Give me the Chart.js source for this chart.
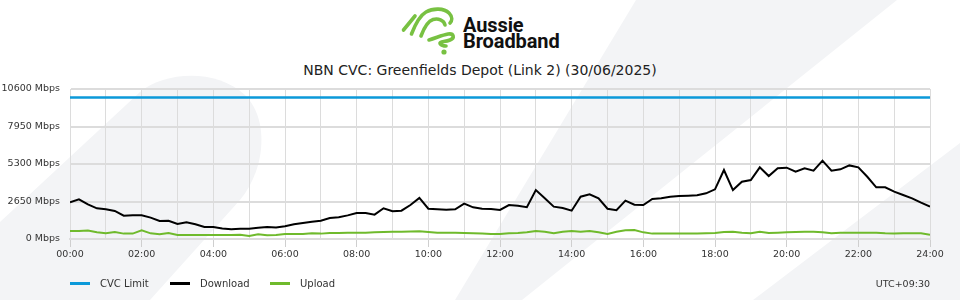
<!DOCTYPE html>
<html>
<head>
<meta charset="utf-8">
<script src="https://cdn.jsdelivr.net/npm/chart.js@4.4.1/dist/chart.umd.min.js"></script>
<style>
  body { margin: 0; background: #fff; font-family: "DejaVu Sans", sans-serif; }
  #page { position: relative; width: 960px; height: 300px; overflow: hidden; }
  #bg { position: absolute; left: 0; top: 0; }
  #chart { position: absolute; left: 0; top: 0; }
  #logo { position: absolute; left: 400px; top: 1px; width: 62px; height: 56px; }
  #brand { position: absolute; left: 463px; top: 17px; font-family: Roboto, sans-serif; font-weight: 700;
           font-size: 20px; line-height: 16px; color: #111; letter-spacing: -0.1px; }
  #title { position: absolute; left: 0; top: 61px; width: 960px; text-align: center; font-size: 14px;
           line-height: 18px; color: #222; }
  .legend { position: absolute; top: 277px; font-size: 10px; line-height: 14px; color: #333; white-space: nowrap; }
  .legend span { display: inline-block; width: 20px; height: 3px; margin-right: 10px; vertical-align: middle; position: relative; top: -1px; }
  #tz { position: absolute; top: 277px; right: 30px; font-size: 9.5px; line-height: 14px; color: #333; }
</style>
</head>
<body>
<div id="page">
  <svg id="bg" width="960" height="300">
    <path d="M0,222 L140,92 C165,72 215,68 245,95 C270,120 265,170 240,200 L150,300 L0,300 Z" fill="#f3f4f6"/>
    <path d="M636,0 L897,0 L522,300 L455,300 Z" fill="#f3f4f6"/>
    <path d="M960,143 L960,300 L753,300 Z" fill="#f3f4f6"/>
  </svg>
  <svg id="logo" viewBox="0 0 62 56">
    <g fill="none" stroke="#78c142" stroke-width="3.6" stroke-linecap="round" stroke-linejoin="round">
      <path d="M3.5,29 L15,15"/>
      <path d="M11.5,33 C15,24 19,15 26,11 C33,7 44,7 49,12 C53,16 52,20 50,22"/>
      <path d="M21,35 C24,27 28,20 33,18.5 C38,17 44,19 45,24"/>
      <path d="M29,39 C36,37 42,34 48,33 C54,32 55,37 50,39 C45,41 40,40 40,42 C40,44 44,45 46,45"/>
    </g>
    <circle cx="44" cy="51" r="2.6" fill="#78c142"/>
  </svg>
  <div id="brand">Aussie<br>Broadband</div>
  <div id="title">NBN CVC: Greenfields Depot (Link 2) (30/06/2025)</div>
  <canvas id="chart" width="960" height="300"></canvas>
  <div class="legend" style="left:70px"><span style="background:#0b99d9"></span>CVC Limit</div>
  <div class="legend" style="left:170px"><span style="background:#000"></span>Download</div>
  <div class="legend" style="left:270px"><span style="background:#6fba2c"></span>Upload</div>
  <div id="tz">UTC+09:30</div>
</div>
<script>
// samples every 15 minutes, 00:00 to 24:00 (Mbps)
const intervalMinutes = 15;

const download = [
  2600, 2800, 2450, 2170, 2100, 1980, 1650, 1670,
  1670, 1510, 1270, 1290, 1060, 1180, 1040, 850,
  850, 750, 685, 730, 730, 800, 850, 820,
  900, 1040, 1130, 1225, 1295, 1485, 1530, 1670,
  1840, 1840, 1720, 2170, 1960, 2000, 2400, 2900,
  2140, 2100, 2070, 2100, 2500, 2240, 2140, 2120,
  2050, 2400, 2355, 2250, 3460, 2875, 2285, 2190,
  2000, 2990, 3160, 2875, 2140, 2030, 2710, 2425,
  2400, 2830, 2875, 2990, 3040, 3060, 3085, 3230,
  3510, 4875, 3460, 4050, 4170, 5065, 4450, 5000,
  5040, 4760, 5000, 4830, 5535, 4830, 4925, 5200,
  5065, 4400, 3650, 3650, 3345, 3110, 2875, 2565,
  2285
];

const upload = [
  565, 565, 600, 470, 400, 495, 380, 380,
  610, 400, 330, 420, 290, 285, 285, 285,
  285, 285, 285, 300, 215, 330, 260, 285,
  350, 350, 355, 400, 380, 425, 425, 445,
  445, 450, 470, 495, 515, 515, 530, 540,
  495, 450, 445, 445, 425, 400, 380, 355,
  355, 400, 425, 470, 565, 515, 400, 515,
  565, 515, 565, 470, 355, 515, 610, 635,
  470, 380, 380, 380, 380, 380, 380, 400,
  425, 495, 515, 445, 400, 515, 425, 445,
  470, 495, 515, 515, 470, 400, 445, 445,
  445, 445, 445, 400, 380, 400, 400, 400,
  305
];

const cvcLimit = 10000;

const xTickLabels = ["00:00", "02:00", "04:00", "06:00", "08:00", "10:00", "12:00",
                     "14:00", "16:00", "18:00", "20:00", "22:00", "24:00"];
const yTicks = [0, 2650, 5300, 7950, 10600];

function toPoints(values) {
  return values.map((v, i) => ({ x: i * intervalMinutes, y: v }));
}

Chart.defaults.font.family = "'DejaVu Sans', sans-serif";
Chart.defaults.color = "#333";

const gridColor = "#dcdcdc";

new Chart(document.getElementById("chart").getContext("2d"), {
  type: "line",
  data: {
    datasets: [
      {
        label: "CVC Limit",
        data: [{ x: 0, y: cvcLimit }, { x: 1440, y: cvcLimit }],
        borderColor: "#0b99d9",
        borderWidth: 2.5,
        pointRadius: 0
      },
      {
        label: "Download",
        data: toPoints(download),
        borderColor: "#000",
        borderWidth: 2,
        pointRadius: 0,
        tension: 0
      },
      {
        label: "Upload",
        data: toPoints(upload),
        borderColor: "#6fba2c",
        borderWidth: 2,
        pointRadius: 0,
        tension: 0
      }
    ]
  },
  options: {
    responsive: false,
    animation: false,
    layout: { padding: { top: 89, left: 0, right: 30, bottom: 41 } },
    plugins: {
      legend: { display: false },
      title: { display: false },
      tooltip: { enabled: false }
    },
    scales: {
      x: {
        type: "linear",
        min: 0,
        max: 1440,
        afterFit: (scale) => { scale.height = 20; },
        ticks: {
          stepSize: 60,
          autoSkip: false,
          maxRotation: 0,
          padding: 2,
          font: { size: 9.5 },
          callback: (v) => (v % 120 === 0 ? xTickLabels[v / 120] : "")
        },
        grid: {
          color: gridColor,
          lineWidth: 1,
          tickLength: 8,
          tickColor: (ctx) => (ctx.tick && ctx.tick.value % 120 === 0 ? "#cfcfcf" : "rgba(0,0,0,0)")
        },
        border: { color: gridColor, width: 2 }
      },
      y: {
        min: 0,
        max: 10600,
        afterFit: (scale) => { scale.width = 70; },
        afterBuildTicks: (scale) => { scale.ticks = yTicks.map((v) => ({ value: v })); },
        ticks: {
          padding: 10,
          font: { size: 9.5 },
          callback: (v) => v + " Mbps"
        },
        grid: { color: gridColor, lineWidth: 2, drawTicks: false },
        border: { color: gridColor, width: 1 }
      }
    }
  }
});
</script>
</body>
</html>
